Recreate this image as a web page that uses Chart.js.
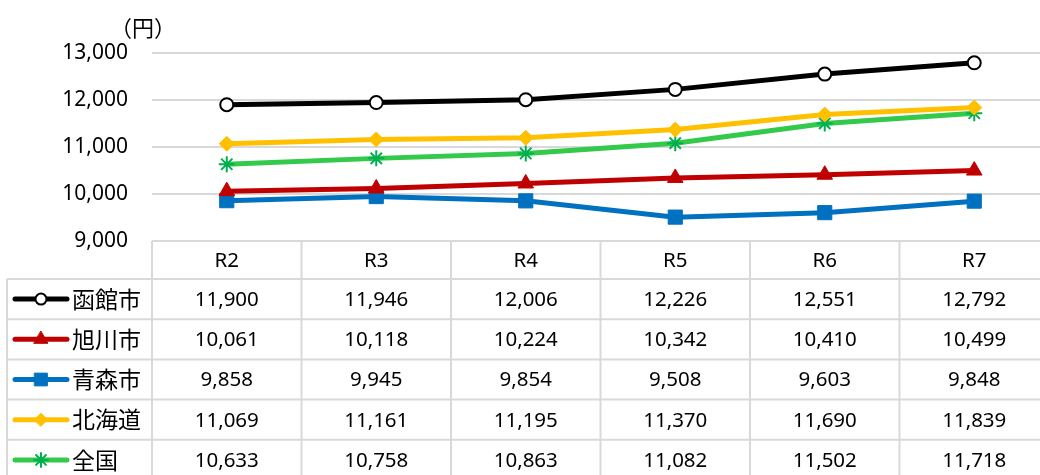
<!DOCTYPE html>
<html>
<head>
<meta charset="utf-8">
<script src="https://cdn.jsdelivr.net/npm/chart.js@4/dist/chart.umd.min.js"></script>
<style>
  html, body { margin: 0; padding: 0; background: #fff; overflow: hidden; }
  #wrap { width: 1060px; height: 475px; }
</style>
</head>
<body>
<div id="wrap"><canvas id="c" width="1060" height="475"></canvas></div>
<script>
// data
var years = ['R2', 'R3', 'R4', 'R5', 'R6', 'R7'];
var hakodate = [11900, 11946, 12006, 12226, 12551, 12792];
var asahikawa = [10061, 10118, 10224, 10342, 10410, 10499];
var aomori = [9858, 9945, 9854, 9508, 9603, 9848];
var hokkaido = [11069, 11161, 11195, 11370, 11690, 11839];
var zenkoku = [10633, 10758, 10863, 11082, 11502, 11718];
var seriesNames = ['函館市', '旭川市', '青森市', '北海道', '全国'];
var yTicks = [9000, 10000, 11000, 12000, 13000];
var unitLabel = '（円）';

var numFont = '"Noto Sans", "Liberation Sans", sans-serif';
var jpFont = '"Noto Sans CJK JP", sans-serif';
var gridColor = '#d9d9d9';

function fmt(v) {
  return v.toLocaleString('en-US');
}

var datasets = [
  { label: seriesNames[0], data: hakodate, borderColor: '#000000',
    pointStyle: 'circle', pointRadius: 6.5, pointBackgroundColor: '#ffffff',
    pointBorderColor: '#000000', pointBorderWidth: 2 },
  { label: seriesNames[1], data: asahikawa, borderColor: '#c00000',
    pointStyle: 'triangle', pointRadius: 9, pointBackgroundColor: '#c00000',
    pointBorderColor: '#c00000', pointBorderWidth: 1 },
  { label: seriesNames[2], data: aomori, borderColor: '#0070c0',
    pointStyle: 'rect', pointRadius: 10, pointBackgroundColor: '#0070c0',
    pointBorderColor: '#0070c0', pointBorderWidth: 1 },
  { label: seriesNames[3], data: hokkaido, borderColor: '#ffc000',
    pointStyle: 'rectRot', pointRadius: 7.5, pointBackgroundColor: '#ffc000',
    pointBorderColor: '#ffc000', pointBorderWidth: 1 },
  { label: seriesNames[4], data: zenkoku, borderColor: '#33c94a',
    pointStyle: 'star', pointRadius: 8, pointBackgroundColor: '#00b050',
    pointBorderColor: '#00b050', pointBorderWidth: 2 }
];
datasets.forEach(function(d) { d.tension = 0; d.fill = false; d.borderWidth = 5; });

// data table under the plot + unit label
var tablePlugin = {
  id: 'dataTable',
  afterDraw: function(chart) {
    var ctx = chart.ctx;
    var area = chart.chartArea;
    var x = chart.scales.x;
    var top = area.bottom;
    var headH = 38, rowH = 40.2;
    var left = 7;
    var colW = (area.right - area.left) / years.length;
    var bottom = top + headH + rowH * seriesNames.length;

    ctx.save();
    ctx.strokeStyle = gridColor;
    ctx.lineWidth = 2;
    ctx.beginPath();
    // header top
    ctx.moveTo(area.left, top); ctx.lineTo(area.right, top);
    // row lines
    for (var r = 0; r <= seriesNames.length; r++) {
      var yy = top + headH + rowH * r;
      ctx.moveTo(left, yy); ctx.lineTo(area.right, yy);
    }
    // verticals
    ctx.moveTo(left, top + headH); ctx.lineTo(left, bottom);
    for (var c = 0; c <= years.length; c++) {
      var xx = area.left + colW * c;
      ctx.moveTo(xx, top); ctx.lineTo(xx, bottom);
    }
    ctx.stroke();

    ctx.fillStyle = '#000';
    ctx.textAlign = 'center';
    ctx.textBaseline = 'middle';
    ctx.font = '20.5px ' + numFont;
    years.forEach(function(y, i) {
      ctx.fillText(y, x.getPixelForValue(i), top + headH / 2 + 1);
    });

    chart.data.datasets.forEach(function(ds, r) {
      var cy = top + headH + rowH * r + rowH / 2 + 1;
      ctx.fillStyle = '#000';
      ctx.font = '20.5px ' + numFont;
      ctx.textAlign = 'center';
      ds.data.forEach(function(v, i) {
        ctx.fillText(fmt(v), x.getPixelForValue(i), cy);
      });
      // legend sample
      ctx.save();
      ctx.strokeStyle = ds.borderColor;
      ctx.lineWidth = 5;
      ctx.lineCap = 'round';
      ctx.beginPath();
      ctx.moveTo(15, cy - 1); ctx.lineTo(67, cy - 1);
      ctx.stroke();
      ctx.fillStyle = ds.pointBackgroundColor;
      ctx.strokeStyle = ds.pointBorderColor;
      ctx.lineWidth = ds.pointBorderWidth;
      Chart.helpers.drawPoint(ctx, {
        pointStyle: ds.pointStyle,
        radius: ds.pointRadius - 1,
        borderWidth: ds.pointBorderWidth,
        rotation: 0
      }, 41, cy - 1);
      ctx.restore();
      ctx.fillStyle = '#000';
      ctx.textAlign = 'left';
      ctx.font = '23px ' + jpFont;
      ctx.fillText(ds.label, 72, cy - 1);
    });

    ctx.textAlign = 'center';
    ctx.font = '22px ' + jpFont;
    ctx.fillText(unitLabel, 143, 28);
    ctx.restore();
  }
};

new Chart(document.getElementById('c'), {
  type: 'line',
  data: { labels: years, datasets: datasets },
  options: {
    responsive: false,
    animation: false,
    layout: { padding: { left: 0, right: 8, top: 53, bottom: 234 } },
    plugins: { legend: { display: false }, tooltip: { enabled: false } },
    scales: {
      x: {
        display: false,
        offset: true
      },
      y: {
        min: yTicks[0],
        max: yTicks[yTicks.length - 1],
        afterFit: function(s) { s.width = 152; },
        afterBuildTicks: function(s) {
          s.ticks = yTicks.map(function(v) { return { value: v }; });
        },
        border: { display: false },
        grid: { color: gridColor, lineWidth: 2, drawTicks: false },
        ticks: {
          padding: 24,
          color: '#000',
          font: { family: numFont, size: 21 },
          callback: function(v) { return fmt(v); }
        }
      }
    }
  },
  plugins: [tablePlugin]
});
</script>
</body>
</html>
